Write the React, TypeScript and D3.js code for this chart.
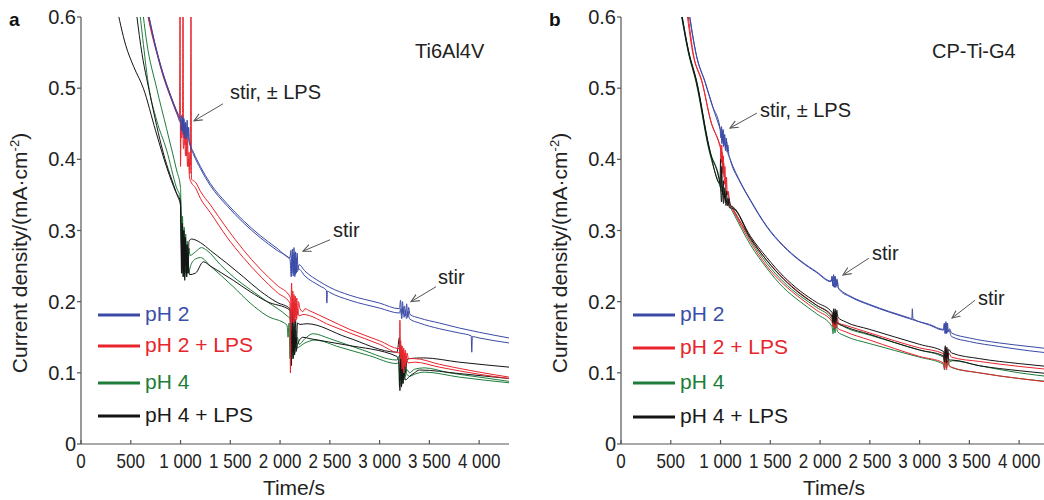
import React from 'react'
import * as d3 from 'd3'

type Pt = [number, number]

// axis ticks
const xTicks = [0, 500, 1000, 1500, 2000, 2500, 3000, 3500, 4000]
const xTickLabels = ['0', '500', '1 000', '1 500', '2 000', '2 500', '3 000', '3 500', '4 000']
const yTicks = [0, 0.1, 0.2, 0.3, 0.4, 0.5, 0.6]
const yTickLabels = ['0', '0.1', '0.2', '0.3', '0.4', '0.5', '0.6']

const seriesNames = ['pH 2', 'pH 2 + LPS', 'pH 4', 'pH 4 + LPS']
const lineColors = ['#3a4aa6', '#e8242c', '#1e7d3a', '#141414']
const textColors = ['#3a4fa8', '#e8242c', '#1e7d3a', '#1a1a1a']

// ---- panel a : Ti6Al4V ----
const aPh2_1: Pt[] = [
  [655, 0.62], [700, 0.59], [760, 0.553], [820, 0.523], [900, 0.49], [960, 0.468], [1000, 0.455],
  [1010, 0.44], [1018, 0.46], [1026, 0.435], [1034, 0.456], [1042, 0.43], [1050, 0.452], [1058, 0.428], [1066, 0.455], [1074, 0.43], [1082, 0.445], [1090, 0.425],
  [1130, 0.41], [1200, 0.39], [1300, 0.366], [1465, 0.338], [1630, 0.314], [1800, 0.293], [1970, 0.275], [2100, 0.262],
  [2108, 0.272], [2116, 0.24], [2124, 0.274], [2132, 0.236], [2140, 0.276], [2148, 0.235], [2156, 0.27], [2164, 0.24], [2172, 0.268], [2180, 0.245], [2190, 0.252],
  [2250, 0.243], [2400, 0.228], [2500, 0.22], [2700, 0.209], [3000, 0.198], [3200, 0.19],
  [3210, 0.202], [3220, 0.182], [3230, 0.2], [3240, 0.184], [3250, 0.194], [3262, 0.18], [3272, 0.197], [3282, 0.178], [3292, 0.192], [3305, 0.182],
  [3400, 0.177], [3600, 0.17], [3800, 0.163], [4000, 0.157], [4300, 0.149],
]
const aPh2_2: Pt[] = [
  [650, 0.62], [700, 0.588], [760, 0.551], [820, 0.521], [900, 0.488], [960, 0.466], [1000, 0.452],
  [1012, 0.462], [1022, 0.44], [1032, 0.458], [1042, 0.435], [1052, 0.45], [1062, 0.432], [1072, 0.445], [1082, 0.428], [1095, 0.42],
  [1130, 0.407], [1200, 0.387], [1300, 0.363], [1465, 0.335], [1630, 0.311], [1800, 0.29], [1970, 0.272], [2100, 0.259],
  [2112, 0.235], [2122, 0.265], [2132, 0.24], [2142, 0.268], [2152, 0.238], [2162, 0.262], [2172, 0.242], [2185, 0.246],
  [2250, 0.236], [2400, 0.222], [2465, 0.216], [2470, 0.198], [2476, 0.215], [2500, 0.213], [2700, 0.202], [3000, 0.191], [3200, 0.184],
  [3212, 0.19], [3222, 0.176], [3234, 0.192], [3246, 0.178], [3258, 0.188], [3270, 0.176], [3285, 0.186], [3300, 0.176],
  [3400, 0.17], [3600, 0.162], [3800, 0.156], [3920, 0.152], [3926, 0.129], [3932, 0.151], [4000, 0.149], [4300, 0.142],
]
const aPh2L_1: Pt[] = [
  [640, 0.62], [700, 0.585], [760, 0.553], [820, 0.522], [900, 0.49], [960, 0.468], [990, 0.458], [995, 0.65], [1000, 0.39],
  [1006, 0.455], [1014, 0.44], [1020, 0.455], [1025, 0.65], [1030, 0.43], [1038, 0.45], [1046, 0.42], [1054, 0.44], [1062, 0.405],
  [1070, 0.43], [1078, 0.39], [1086, 0.41], [1094, 0.38], [1100, 0.395], [1105, 0.65], [1110, 0.372],
  [1150, 0.368], [1200, 0.355], [1300, 0.336], [1465, 0.303], [1630, 0.273], [1800, 0.246], [1970, 0.223], [2100, 0.207],
  [2110, 0.2], [2116, 0.226], [2122, 0.185], [2128, 0.215], [2134, 0.18], [2140, 0.21], [2146, 0.178], [2152, 0.208], [2160, 0.18], [2168, 0.205], [2176, 0.182], [2185, 0.2],
  [2200, 0.19], [2230, 0.186], [2250, 0.19], [2300, 0.187], [2500, 0.174], [2700, 0.161], [3000, 0.145], [3200, 0.134],
  [3212, 0.145], [3218, 0.12], [3226, 0.138], [3234, 0.11], [3242, 0.135], [3250, 0.112], [3258, 0.132], [3266, 0.115], [3275, 0.128], [3290, 0.12],
  [3350, 0.12], [3600, 0.112], [4000, 0.101], [4300, 0.094],
]
const aPh2L_2: Pt[] = [
  [650, 0.62], [700, 0.583], [760, 0.55], [820, 0.519], [900, 0.487], [960, 0.465], [1000, 0.452],
  [1010, 0.43], [1020, 0.45], [1030, 0.415], [1040, 0.44], [1050, 0.405], [1060, 0.425], [1070, 0.39], [1080, 0.4], [1090, 0.375],
  [1110, 0.367], [1150, 0.36], [1200, 0.345], [1300, 0.325], [1465, 0.291], [1630, 0.262], [1800, 0.236], [1970, 0.213], [2100, 0.198],
  [2104, 0.1], [2110, 0.2], [2118, 0.172], [2126, 0.205], [2134, 0.17], [2142, 0.2], [2150, 0.172], [2158, 0.198], [2166, 0.175], [2176, 0.19], [2190, 0.18],
  [2230, 0.182], [2500, 0.167], [2700, 0.156], [3000, 0.14], [3200, 0.128],
  [3204, 0.174], [3210, 0.12], [3218, 0.138], [3226, 0.105], [3234, 0.132], [3242, 0.1], [3250, 0.128], [3258, 0.108], [3268, 0.124], [3285, 0.114],
  [3350, 0.115], [3600, 0.108], [4000, 0.098], [4300, 0.092],
]
const aPh4_1: Pt[] = [
  [610, 0.62], [660, 0.565], [760, 0.5], [860, 0.443], [960, 0.385], [1000, 0.36],
  [1006, 0.31], [1013, 0.26], [1020, 0.32], [1028, 0.245], [1036, 0.305], [1044, 0.25], [1052, 0.295], [1060, 0.24], [1068, 0.285], [1076, 0.25], [1086, 0.275], [1095, 0.265],
  [1150, 0.27], [1210, 0.276], [1265, 0.272], [1400, 0.252], [1530, 0.235], [1700, 0.217], [1870, 0.2], [2070, 0.18], [2100, 0.176],
  [2108, 0.165], [2116, 0.13], [2124, 0.17], [2132, 0.12], [2140, 0.165], [2148, 0.128], [2156, 0.16], [2164, 0.132], [2174, 0.15], [2190, 0.14],
  [2250, 0.148], [2330, 0.155], [2500, 0.148], [2830, 0.132], [3175, 0.118],
  [3204, 0.125], [3212, 0.09], [3220, 0.12], [3228, 0.085], [3236, 0.115], [3244, 0.09], [3252, 0.11], [3260, 0.095], [3272, 0.105], [3300, 0.1],
  [3350, 0.105], [3450, 0.107], [3700, 0.1], [4000, 0.094], [4300, 0.088],
]
const aPh4_2: Pt[] = [
  [580, 0.62], [620, 0.57], [675, 0.507], [760, 0.455], [860, 0.413], [960, 0.36], [1000, 0.345],
  [1008, 0.29], [1016, 0.24], [1024, 0.3], [1032, 0.235], [1040, 0.29], [1048, 0.24], [1056, 0.28], [1064, 0.235], [1072, 0.27], [1082, 0.24], [1100, 0.25],
  [1150, 0.26], [1200, 0.262], [1300, 0.25], [1530, 0.221], [1700, 0.198], [1870, 0.18], [2070, 0.167],
  [2080, 0.15], [2090, 0.17], [2100, 0.12], [2108, 0.16], [2116, 0.125], [2124, 0.155], [2132, 0.13], [2145, 0.145], [2165, 0.135],
  [2250, 0.142], [2350, 0.146], [2600, 0.136], [2900, 0.124], [3175, 0.113],
  [3190, 0.115], [3200, 0.08], [3210, 0.11], [3220, 0.082], [3230, 0.105], [3240, 0.09], [3255, 0.1], [3300, 0.095],
  [3350, 0.098], [3450, 0.101], [3800, 0.094], [4300, 0.086],
]
const aPh4L_1: Pt[] = [
  [350, 0.62], [450, 0.56], [530, 0.53], [626, 0.5], [750, 0.44], [870, 0.385], [950, 0.355], [1000, 0.34],
  [1004, 0.3], [1010, 0.24], [1018, 0.31], [1026, 0.235], [1034, 0.3], [1042, 0.23], [1050, 0.29], [1058, 0.235], [1066, 0.28], [1074, 0.24], [1085, 0.285],
  [1110, 0.288], [1200, 0.283], [1300, 0.272], [1465, 0.254], [1630, 0.235], [1800, 0.215], [1970, 0.199], [2100, 0.19],
  [2108, 0.18], [2116, 0.14], [2124, 0.19], [2132, 0.13], [2140, 0.18], [2148, 0.135], [2156, 0.175], [2164, 0.14], [2175, 0.17],
  [2200, 0.168], [2270, 0.169], [2670, 0.15], [3175, 0.129],
  [3200, 0.15], [3208, 0.1], [3216, 0.13], [3224, 0.09], [3232, 0.125], [3240, 0.095], [3250, 0.12], [3262, 0.1], [3275, 0.118],
  [3300, 0.12], [3440, 0.121], [3800, 0.115], [4300, 0.108],
]
const aPh4L_2: Pt[] = [
  [545, 0.62], [600, 0.56], [695, 0.49], [825, 0.41], [965, 0.35], [1000, 0.335],
  [1006, 0.29], [1014, 0.245], [1022, 0.3], [1030, 0.24], [1038, 0.29], [1046, 0.25], [1054, 0.28], [1062, 0.24], [1072, 0.26], [1090, 0.238],
  [1150, 0.24], [1230, 0.256], [1300, 0.25], [1530, 0.23], [1700, 0.214], [1870, 0.2], [2100, 0.188],
  [2106, 0.15], [2114, 0.11], [2122, 0.16], [2130, 0.12], [2138, 0.155], [2146, 0.125], [2154, 0.15], [2162, 0.13], [2175, 0.14],
  [2230, 0.15], [2300, 0.148], [2670, 0.139], [3175, 0.123],
  [3196, 0.11], [3204, 0.075], [3212, 0.115], [3220, 0.08], [3228, 0.11], [3236, 0.085], [3246, 0.1], [3260, 0.09], [3300, 0.095],
  [3350, 0.1], [3400, 0.104], [3800, 0.099], [4300, 0.092],
]

// ---- panel b : CP-Ti-G4 ----
const bPh2_1: Pt[] = [
  [670, 0.62], [760, 0.545], [845, 0.509], [920, 0.475], [995, 0.444],
  [1003, 0.43], [1010, 0.446], [1018, 0.425], [1026, 0.442], [1034, 0.42], [1042, 0.435], [1050, 0.415], [1058, 0.43], [1066, 0.41], [1074, 0.42], [1085, 0.405],
  [1100, 0.399], [1200, 0.368], [1300, 0.343], [1465, 0.306], [1630, 0.279], [1800, 0.258], [1965, 0.242], [2110, 0.229],
  [2120, 0.236], [2128, 0.222], [2136, 0.238], [2144, 0.22], [2152, 0.236], [2160, 0.222], [2170, 0.232], [2180, 0.22],
  [2200, 0.217], [2300, 0.208], [2500, 0.196], [2700, 0.186], [2900, 0.177], [2922, 0.176], [2927, 0.19], [2933, 0.176], [3100, 0.168], [3240, 0.161],
  [3248, 0.17], [3256, 0.155], [3264, 0.172], [3272, 0.155], [3280, 0.17], [3288, 0.158], [3300, 0.162],
  [3320, 0.156], [3500, 0.149], [3800, 0.142], [4100, 0.137], [4350, 0.133],
]
const bPh2_2: Pt[] = [
  [668, 0.62], [760, 0.544], [845, 0.508], [920, 0.474], [995, 0.443],
  [1006, 0.438], [1014, 0.422], [1022, 0.44], [1030, 0.418], [1040, 0.432], [1050, 0.412], [1062, 0.425], [1075, 0.408], [1090, 0.403],
  [1100, 0.398], [1200, 0.367], [1300, 0.342], [1465, 0.305], [1630, 0.278], [1800, 0.257], [1965, 0.241], [2110, 0.228],
  [2124, 0.234], [2134, 0.221], [2146, 0.235], [2158, 0.22], [2172, 0.23], [2185, 0.219],
  [2200, 0.216], [2300, 0.207], [2500, 0.195], [2700, 0.185], [2900, 0.176], [3100, 0.167], [3240, 0.16],
  [3250, 0.168], [3260, 0.156], [3270, 0.17], [3282, 0.157], [3295, 0.16],
  [3320, 0.151], [3500, 0.144], [3800, 0.137], [4100, 0.131], [4350, 0.127],
]
const bPh2L_1: Pt[] = [
  [650, 0.62], [720, 0.55], [815, 0.509], [900, 0.455], [985, 0.424], [1000, 0.418],
  [1005, 0.4], [1012, 0.42], [1020, 0.39], [1028, 0.405], [1036, 0.375], [1044, 0.39], [1052, 0.36], [1060, 0.375], [1068, 0.35], [1078, 0.355], [1090, 0.34],
  [1127, 0.33], [1300, 0.29], [1465, 0.258], [1630, 0.233], [1800, 0.212], [1965, 0.195], [2120, 0.178],
  [2128, 0.17], [2136, 0.186], [2144, 0.165], [2152, 0.183], [2160, 0.167], [2170, 0.178], [2185, 0.17],
  [2250, 0.167], [2500, 0.156], [3000, 0.135], [3240, 0.127],
  [3250, 0.118], [3258, 0.136], [3266, 0.115], [3274, 0.133], [3282, 0.12], [3292, 0.128],
  [3320, 0.122], [3600, 0.116], [4000, 0.109], [4350, 0.104],
]
const bPh2L_2: Pt[] = [
  [660, 0.62], [725, 0.55], [820, 0.505], [905, 0.452], [990, 0.42], [1000, 0.414],
  [1008, 0.395], [1016, 0.41], [1024, 0.38], [1032, 0.395], [1040, 0.365], [1050, 0.375], [1060, 0.35], [1072, 0.355], [1090, 0.338],
  [1127, 0.328], [1300, 0.284], [1465, 0.25], [1630, 0.225], [1800, 0.205], [1965, 0.188], [2120, 0.172],
  [2130, 0.165], [2140, 0.18], [2150, 0.162], [2160, 0.176], [2175, 0.163],
  [2250, 0.158], [2500, 0.146], [3000, 0.123], [3240, 0.114],
  [3250, 0.106], [3260, 0.122], [3270, 0.104], [3282, 0.118], [3295, 0.11],
  [3320, 0.108], [3600, 0.1], [4000, 0.092], [4350, 0.086],
]
const bPh4_1: Pt[] = [
  [590, 0.62], [680, 0.55], [760, 0.509], [885, 0.416], [1000, 0.364],
  [1010, 0.355], [1020, 0.362], [1030, 0.35],
  [1127, 0.33], [1300, 0.287], [1465, 0.254], [1630, 0.228], [1800, 0.208], [1965, 0.192], [2120, 0.175],
  [2128, 0.165], [2136, 0.18], [2144, 0.16], [2152, 0.178], [2162, 0.163], [2175, 0.17],
  [2250, 0.164], [2500, 0.153], [3000, 0.132], [3240, 0.122],
  [3250, 0.112], [3260, 0.128], [3270, 0.11], [3280, 0.125], [3295, 0.115],
  [3330, 0.117], [3600, 0.11], [4000, 0.1], [4350, 0.094],
]
const bPh4_2: Pt[] = [
  [585, 0.62], [676, 0.55], [756, 0.507], [882, 0.414], [1000, 0.36],
  [1127, 0.325], [1300, 0.28], [1465, 0.247], [1630, 0.22], [1800, 0.2], [1965, 0.183], [2120, 0.165],
  [2130, 0.155], [2140, 0.172], [2150, 0.156], [2160, 0.17], [2175, 0.158],
  [2250, 0.152], [2500, 0.141], [3000, 0.122], [3240, 0.112],
  [3250, 0.104], [3260, 0.12], [3270, 0.107], [3285, 0.118], [3300, 0.11],
  [3330, 0.107], [3600, 0.1], [4000, 0.092], [4350, 0.087],
]
const bPh4L_1: Pt[] = [
  [592, 0.62], [680, 0.552], [760, 0.51], [885, 0.418], [995, 0.366],
  [1000, 0.4], [1006, 0.36], [1012, 0.39], [1020, 0.35], [1028, 0.37], [1036, 0.345], [1044, 0.36], [1052, 0.34], [1060, 0.355], [1070, 0.335], [1085, 0.345], [1100, 0.335],
  [1127, 0.333], [1300, 0.292], [1465, 0.262], [1630, 0.236], [1800, 0.215], [1965, 0.199], [2120, 0.185],
  [2128, 0.175], [2136, 0.19], [2144, 0.172], [2152, 0.19], [2160, 0.175], [2168, 0.188], [2180, 0.178],
  [2250, 0.172], [2500, 0.161], [3000, 0.14], [3240, 0.13],
  [3250, 0.122], [3258, 0.138], [3266, 0.12], [3274, 0.136], [3282, 0.123], [3292, 0.133],
  [3320, 0.128], [3600, 0.12], [4000, 0.113], [4350, 0.108],
]
const bPh4L_2: Pt[] = [
  [588, 0.62], [678, 0.551], [758, 0.508], [884, 0.415], [1000, 0.36],
  [1010, 0.34], [1020, 0.36], [1030, 0.338], [1042, 0.352], [1055, 0.335], [1070, 0.345], [1090, 0.332],
  [1127, 0.331], [1300, 0.289], [1465, 0.258], [1630, 0.232], [1800, 0.211], [1965, 0.195], [2120, 0.18],
  [2130, 0.17], [2140, 0.186], [2150, 0.168], [2160, 0.184], [2172, 0.17],
  [2250, 0.165], [2500, 0.154], [3000, 0.132], [3240, 0.124],
  [3250, 0.115], [3260, 0.132], [3270, 0.114], [3282, 0.128], [3295, 0.118],
  [3320, 0.118], [3600, 0.11], [4000, 0.103], [4350, 0.098],
]

// draw order: green, black, red, blue (index into seriesNames)
const panelA = [
  { k: 2, pts: aPh4_1 }, { k: 2, pts: aPh4_2 },
  { k: 3, pts: aPh4L_1 }, { k: 3, pts: aPh4L_2 },
  { k: 1, pts: aPh2L_2 }, { k: 1, pts: aPh2L_1 },
  { k: 0, pts: aPh2_1 }, { k: 0, pts: aPh2_2 },
]
const panelB = [
  { k: 2, pts: bPh4_1 }, { k: 2, pts: bPh4_2 },
  { k: 1, pts: bPh2L_1 }, { k: 1, pts: bPh2L_2 },
  { k: 3, pts: bPh4L_1 }, { k: 3, pts: bPh4L_2 },
  { k: 0, pts: bPh2_1 }, { k: 0, pts: bPh2_2 },
]

// annotations in data units: text anchor, arrow tail, arrow tip
const notesA = [
  { text: 'stir, ± LPS', t: 1497, v: 0.485, t0: 1427, v0: 0.478, t1: 1135, v1: 0.454 },
  { text: 'stir', t: 2532, v: 0.291, t0: 2502, v0: 0.287, t1: 2230, v1: 0.271 },
  { text: 'stir', t: 3587, v: 0.225, t0: 3567, v0: 0.221, t1: 3316, v1: 0.2 },
]
const notesB = [
  { text: 'stir, ± LPS', t: 1397, v: 0.46, t0: 1366, v0: 0.465, t1: 1095, v1: 0.444 },
  { text: 'stir', t: 2521, v: 0.259, t0: 2490, v0: 0.261, t1: 2230, v1: 0.2375 },
  { text: 'stir', t: 3587, v: 0.195, t0: 3557, v0: 0.202, t1: 3326, v1: 0.177 },
]

const FONT = 'Liberation Sans, Arial, Helvetica, sans-serif'
const AXIS = '#555'

function Panel({ left, letter, title, titleX, series, notes, legendX, legendYs }: any) {
  const plotW = 428
  const x = d3.scaleLinear().domain([0, 4300]).range([left, left + plotW])
  const y = d3.scaleLinear().domain([0, 0.6]).range([444, 17])
  const line = d3.line<Pt>().x(d => x(d[0])).y(d => y(d[1])).curve(d3.curveMonotoneX)
  const clipId = 'clip-' + letter

  return (
    <g fontFamily={FONT}>
      <defs>
        <clipPath id={clipId}>
          <rect x={left} y={y(0.6)} width={plotW} height={y(0) - y(0.6)} />
        </clipPath>
      </defs>

      <g clipPath={`url(#${clipId})`}>
        {series.map((s: any, i: number) => (
          <path key={i} d={line(s.pts) || ''} fill="none" stroke={lineColors[s.k]} strokeWidth={1} />
        ))}
      </g>

      {/* axes */}
      <line x1={left} x2={left} y1={y(0.6)} y2={y(0)} stroke={AXIS} strokeWidth={1.2} />
      <line x1={left} x2={left + plotW} y1={y(0)} y2={y(0)} stroke={AXIS} strokeWidth={1.2} />
      {yTicks.map((t, i) => (
        <g key={'y' + i}>
          <line x1={left - 4} x2={left} y1={y(t)} y2={y(t)} stroke={AXIS} strokeWidth={1.2} />
          <text x={left - 5} y={y(t) + 7} textAnchor="end" fontSize={20} fill="#222">{yTickLabels[i]}</text>
        </g>
      ))}
      {xTicks.map((t, i) => (
        <g key={'x' + i}>
          <line x1={x(t)} x2={x(t)} y1={y(0)} y2={y(0) - 4} stroke={AXIS} strokeWidth={1.2} />
          <text transform={`translate(${x(t)},468) scale(0.85,1)`} textAnchor="middle" fontSize={20} fill="#222">{xTickLabels[i]}</text>
        </g>
      ))}

      <text transform={`translate(${left - 54},253) rotate(-90)`} textAnchor="middle" fontSize={21} fill="#222">
        Current density/(mA·cm<tspan dy={-8} fontSize={13}>-2</tspan><tspan dy={8}>)</tspan>
      </text>
      <text x={left + 213} y={495} textAnchor="middle" fontSize={21} fill="#222">Time/s</text>

      <text x={left - 72} y={26} fontSize={19} fontWeight="bold" fill="#111">{letter}</text>
      <text x={titleX} y={58} fontSize={20} fill="#222">{title}</text>

      {notes.map((n: any, i: number) => (
        <g key={'n' + i}>
          <text x={x(n.t)} y={y(n.v)} fontSize={20} fill="#222">{n.text}</text>
          <line x1={x(n.t0)} y1={y(n.v0)} x2={x(n.t1)} y2={y(n.v1)} stroke="#555" strokeWidth={1} markerEnd="url(#arrowHead)" />
        </g>
      ))}

      {seriesNames.map((name, i) => (
        <g key={'l' + i}>
          <line x1={legendX} x2={legendX + 42} y1={legendYs[i]} y2={legendYs[i]} stroke={lineColors[i]} strokeWidth={3} />
          <text x={legendX + 47} y={legendYs[i] + 6} fontSize={21} fill={textColors[i]}>{name}</text>
        </g>
      ))}
    </g>
  )
}

export default function App() {
  return (
    <div>
      <style>{'body{margin:0}'}</style>
      <svg width={1044} height={500} style={{ display: 'block', background: '#fff' }}>
        <defs>
          <marker id="arrowHead" viewBox="0 0 10 10" refX={9} refY={5} markerWidth={9} markerHeight={9}
            markerUnits="userSpaceOnUse" orient="auto">
            <path d="M0,1 L9,5 L0,9" fill="none" stroke="#555" strokeWidth={1.2} />
          </marker>
        </defs>
        <Panel left={81} letter="a" title="Ti6Al4V" titleX={415} series={panelA} notes={notesA}
          legendX={98} legendYs={[315, 346, 383, 416]} />
        <Panel left={621} letter="b" title="CP-Ti-G4" titleX={932} series={panelB} notes={notesB}
          legendX={633} legendYs={[315, 348, 383, 417]} />
      </svg>
    </div>
  )
}
